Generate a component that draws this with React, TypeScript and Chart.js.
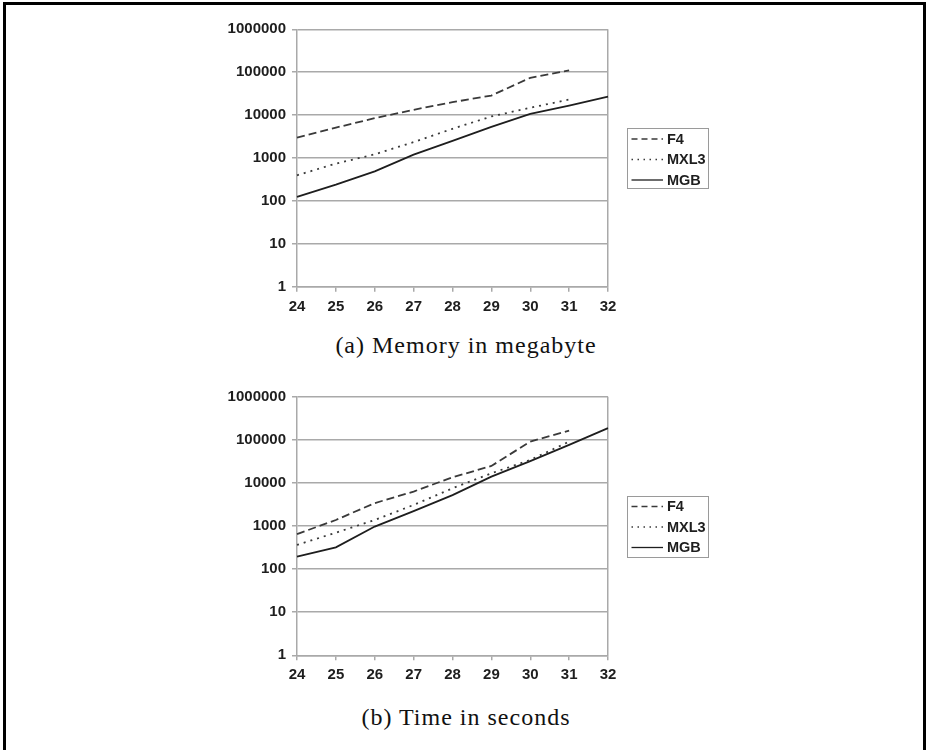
import React, { useEffect, useRef } from "react";
import Chart from "chart.js/auto";

const xLabels = ["24", "25", "26", "27", "28", "29", "30", "31", "32"];
const yTicks = [1, 10, 100, 1000, 10000, 100000, 1000000];
const seriesNames = ["F4", "MXL3", "MGB"];

const memF4 = [3000, 5100, 8500, 13300, 20000, 28600, 74000, 110000];
const memMXL3 = [395, 740, 1220, 2350, 4800, 9300, 14800, 23000];
const memMGB = [124, 240, 490, 1200, 2500, 5300, 10700, 16600, 27000];

const timeF4 = [650, 1380, 3400, 6300, 13500, 24700, 91000, 163000];
const timeMXL3 = [365, 700, 1380, 3080, 7500, 16700, 34000, 91000];
const timeMGB = [195, 320, 970, 2220, 5200, 14000, 32000, 76000, 186000];

const captionA = "(a) Memory in megabyte";
const captionB = "(b) Time in seconds";

const GRID = "#a9a9a9";
const TEXT = "#1e1e1e";
const SANS = "'Liberation Sans', Arial, sans-serif";

const boxLegend = {
  id: "boxLegend",
  afterDraw(chart: any, _args: any, opts: any) {
    const { ctx, chartArea } = chart;
    const x = chartArea.right + opts.offsetX;
    const h = opts.height;
    const y = (chartArea.top + chartArea.bottom) / 2 - h / 2;
    ctx.save();
    ctx.strokeStyle = "#9a9a9a";
    ctx.lineWidth = 1;
    ctx.setLineDash([]);
    ctx.strokeRect(Math.round(x) + 0.5, Math.round(y) + 0.5, opts.width, h);
    chart.data.datasets.forEach((ds: any, i: number) => {
      const ry = y + opts.firstRow + i * opts.rowGap;
      ctx.beginPath();
      ctx.setLineDash(ds.legendDash || []);
      ctx.strokeStyle = ds.borderColor;
      ctx.lineWidth = 1.3;
      ctx.moveTo(x + 4.5, ry);
      ctx.lineTo(x + 36, ry);
      ctx.stroke();
      ctx.setLineDash([]);
      ctx.fillStyle = TEXT;
      ctx.font = "bold 14.5px " + SANS;
      ctx.textBaseline = "middle";
      ctx.textAlign = "left";
      ctx.fillText(ds.label, x + 40, ry + 0.5);
    });
    ctx.restore();
  },
};

function LogChart(props: {
  top: number;
  padTop: number;
  xHeight: number;
  f4: number[];
  mxl3: number[];
  mgb: number[];
  legendHeight: number;
}) {
  const ref = useRef<HTMLCanvasElement | null>(null);
  useEffect(() => {
    if (!ref.current) return;
    const chart = new Chart(ref.current, {
      type: "line",
      data: {
        labels: xLabels,
        datasets: [
          {
            label: seriesNames[0],
            data: props.f4,
            borderColor: "#3a3a3a",
            borderWidth: 1.8,
            borderDash: [8, 4],
            legendDash: [6, 4],
            pointRadius: 0,
            tension: 0,
            fill: false,
          } as any,
          {
            label: seriesNames[1],
            data: props.mxl3,
            borderColor: "#3a3a3a",
            borderWidth: 1.8,
            borderDash: [2, 5],
            legendDash: [1.5, 4.5],
            pointRadius: 0,
            tension: 0,
            fill: false,
          } as any,
          {
            label: seriesNames[2],
            data: props.mgb,
            borderColor: "#1e1e1e",
            borderWidth: 1.8,
            pointRadius: 0,
            tension: 0,
            fill: false,
          } as any,
        ],
      },
      options: {
        animation: false,
        responsive: false,
        devicePixelRatio: 1,
        layout: { padding: { top: props.padTop, left: 0, right: 132, bottom: 0 } },
        plugins: {
          legend: { display: false },
          tooltip: { enabled: false },
          boxLegend: { offsetX: 19, width: 81, height: props.legendHeight, firstRow: 11, rowGap: 20.5 },
        } as any,
        scales: {
          x: {
            type: "category",
            offset: false,
            afterFit: (s: any) => {
              s.height = props.xHeight;
            },
            grid: {
              offset: false,
              color: (c: any) => (c.index === xLabels.length - 1 ? GRID : "rgba(0,0,0,0)"),
              tickColor: GRID,
              lineWidth: 1.5,
              tickLength: 5,
              drawTicks: true,
            },
            border: { display: true, color: GRID, width: 1.5 },
            ticks: {
              color: TEXT,
              font: { family: SANS, size: 15, weight: "bold" },
              padding: 6,
              maxRotation: 0,
              autoSkip: false,
            },
          },
          y: {
            type: "logarithmic",
            min: 1,
            max: 1000000,
            afterFit: (s: any) => {
              s.width = 97;
            },
            afterBuildTicks: (s: any) => {
              s.ticks = yTicks.map((v) => ({ value: v }));
            },
            grid: {
              color: GRID,
              tickColor: GRID,
              lineWidth: 1.5,
              tickLength: 5,
              drawTicks: true,
            },
            border: { display: true, color: GRID, width: 1.5 },
            ticks: {
              color: TEXT,
              font: { family: SANS, size: 15, weight: "bold" },
              padding: 6,
              callback: (v: any) => String(Number(v)),
            },
          },
        },
      },
      plugins: [boxLegend],
    });
    return () => chart.destroy();
  }, []);
  return (
    <canvas
      ref={ref}
      width={540}
      height={330}
      style={{ position: "absolute", left: 200, top: props.top, width: 540, height: 330 }}
    />
  );
}

const captionStyle: React.CSSProperties = {
  position: "absolute",
  left: 216,
  width: 500,
  textAlign: "center",
  fontFamily: "'Liberation Serif', 'Times New Roman', serif",
  fontSize: 24,
  lineHeight: "24px",
  letterSpacing: "1px",
  color: "#111",
  whiteSpace: "nowrap",
};

export default function App() {
  return (
    <div
      style={{
        position: "absolute",
        left: 0,
        top: 0,
        width: 926,
        height: 750,
        overflow: "hidden",
        background: "#fff",
      }}
    >
      <div
        style={{
          position: "absolute",
          left: 3,
          top: 2,
          width: 923,
          height: 800,
          boxSizing: "border-box",
          border: "3px solid #000",
          borderBottom: "none",
        }}
      />
      <LogChart top={0} padTop={29.3} xHeight={43.3} f4={memF4} mxl3={memMXL3} mgb={memMGB} legendHeight={60} />
      <div style={{ ...captionStyle, top: 333 }}>{captionA}</div>
      <LogChart top={370} padTop={26.7} xHeight={44.7} f4={timeF4} mxl3={timeMXL3} mgb={timeMGB} legendHeight={61} />
      <div style={{ ...captionStyle, top: 705 }}>{captionB}</div>
    </div>
  );
}
